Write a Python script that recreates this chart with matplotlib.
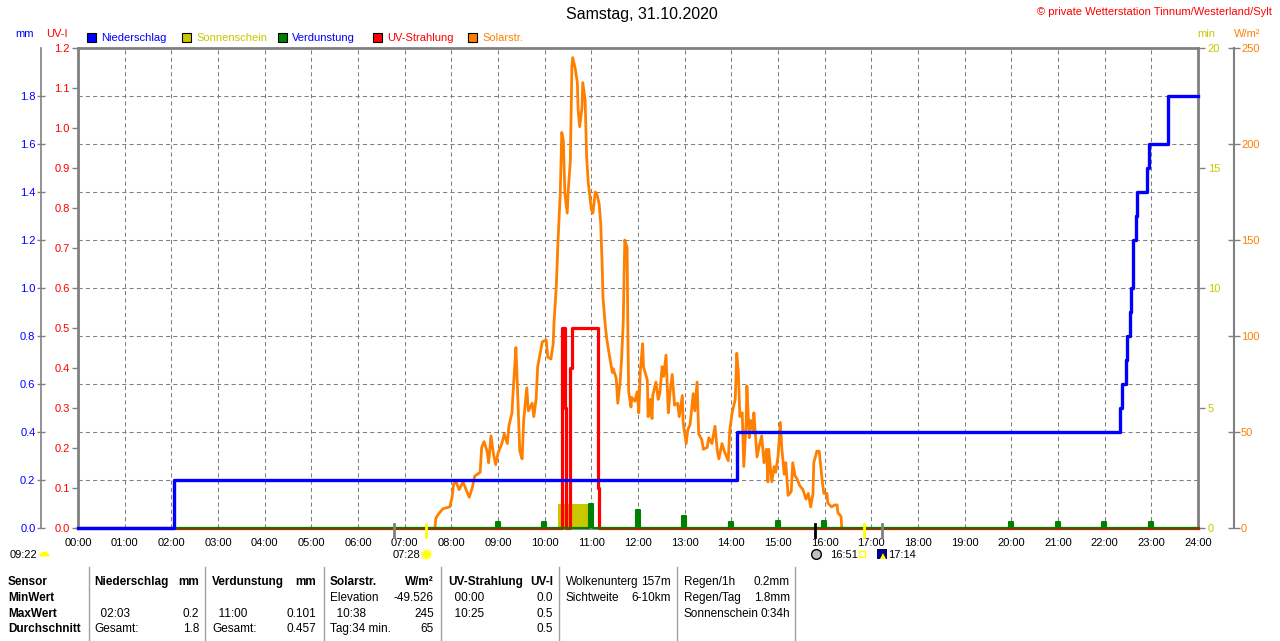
import matplotlib
matplotlib.use("Agg")
import matplotlib.pyplot as plt
from matplotlib.lines import Line2D
from matplotlib.patches import Rectangle

plt.rcParams['font.family'] = ['Liberation Sans', 'DejaVu Sans']

W, H = 1280, 641

# Zeiten in Minuten seit 00:00
# Niederschlag (kumuliert, mm)
rain_t = [0, 123, 847, 1340, 1342, 1347, 1349, 1353, 1354, 1356, 1357, 1360, 1362, 1375, 1377, 1401, 1402, 1440]
rain_v = [0.0, 0.2, 0.4, 0.5, 0.6, 0.7, 0.8, 0.9, 1.0, 1.1, 1.2, 1.3, 1.4, 1.5, 1.6, 1.7, 1.8, 1.8]

# Solarstrahlung W/m2
solar_t = [459, 460, 463, 469, 478, 481, 483, 486, 490, 495, 503, 507, 510, 517, 519, 522, 526, 528, 531, 534,
           537, 540, 545, 548, 552, 554, 558, 559, 563, 564, 566, 568, 571, 573, 577, 579, 584, 586, 589, 591,
           597, 602, 604, 608, 611, 612, 615, 617, 620, 622, 624, 626, 629, 630, 633, 635, 636, 639, 642, 643,
           645, 648, 649, 652, 654, 656, 660, 662, 665, 667, 670, 672, 674, 675, 678, 680, 684, 687, 688, 692,
           694, 697, 699, 701, 703, 706, 707, 708, 711, 712, 716, 719, 721, 723, 726, 727, 732, 733, 736, 738,
           739, 743, 746, 748, 751, 753, 756, 759, 761, 764, 767, 771, 773, 777, 778, 782, 784, 787, 791, 793,
           796, 798, 802, 804, 809, 811, 815, 819, 822, 824, 828, 831, 833, 836, 838, 841, 845, 847, 849, 851,
           854, 856, 859, 860, 863, 865, 868, 869, 873, 876, 879, 882, 885, 887, 888, 892, 895, 897, 900, 903,
           905, 908, 910, 913, 917, 919, 922, 924, 928, 932, 936, 939, 942, 945, 946, 950, 953, 957, 959, 963,
           964, 969, 973, 976, 977, 981, 982]
solar_v = [0, 5, 7, 10, 11, 16, 23, 24, 20, 24, 16, 21, 27, 29, 42, 45, 40, 34, 48, 39,
           33, 39, 44, 49, 44, 53, 60, 68, 94, 84, 62, 40, 36, 56, 73, 61, 65, 58, 67, 84,
           97, 98, 89, 88, 96, 107, 126, 148, 174, 206, 202, 174, 164, 174, 191, 240, 245, 240, 232, 218,
           209, 219, 232, 223, 193, 180, 166, 164, 175, 174, 169, 159, 136, 120, 105, 98, 88, 81, 83, 78,
           65, 76, 89, 107, 150, 146, 101, 71, 63, 68, 66, 71, 60, 82, 96, 84, 77, 58, 67, 57,
           69, 76, 67, 70, 84, 79, 90, 60, 70, 80, 64, 65, 58, 69, 55, 44, 51, 54, 70, 61,
           76, 49, 46, 41, 42, 47, 44, 53, 40, 36, 44, 40, 38, 35, 51, 60, 67, 91, 81, 58,
           60, 32, 55, 74, 47, 56, 51, 60, 37, 43, 48, 34, 41, 24, 41, 24, 32, 29, 37, 55,
           41, 28, 34, 17, 19, 34, 27, 26, 22, 20, 15, 18, 11, 18, 34, 40, 40, 24, 18, 18,
           13, 11, 12, 12, 8, 6, 0]

# UV-Index
uv_t = [0, 622, 626, 627, 633, 635, 668, 670, 1440]
uv_v = [0.0, 0.5, 0.3, 0.0, 0.4, 0.5, 0.1, 0.0, 0.0]

# Sonnenschein (min)
sun_t = [0, 617, 658, 1440]
sun_v = [0, 1.0, 0, 0]

# Verdunstung (mm je Stunde)
evap_h = [9, 10, 11, 12, 13, 14, 15, 16, 20, 21, 22, 23]
evap_v = [0.025, 0.025, 0.101, 0.075, 0.05, 0.025, 0.03, 0.03, 0.025, 0.025, 0.025, 0.025]

# Ereignisse an der Zeitachse (Daemmerung, Sonnenauf-/untergang, Mond)
events_t = [406, 448, 948, 1011, 1034]
events_c = ['#808080', '#ffff00', '#000000', '#ffff00', '#808080']

hour_ticks = [h * 60 for h in range(25)]
hour_labels = ['%02d:00' % h for h in range(25)]
mm_ticks = [0.0, 0.2, 0.4, 0.6, 0.8, 1.0, 1.2, 1.4, 1.6, 1.8]
uv_ticks = [0.0, 0.1, 0.2, 0.3, 0.4, 0.5, 0.6, 0.7, 0.8, 0.9, 1.0, 1.1, 1.2]
min_ticks = [0, 5, 10, 15, 20]
w_ticks = [0, 50, 100, 150, 200, 250]

legend_names = ['Niederschlag', 'Sonnenschein', 'Verdunstung', 'UV-Strahlung', 'Solarstr.']
legend_box = ['#0000ff', '#c8c800', '#008000', '#ff0000', '#ff8000']
legend_txt = ['#0000ff', '#c8c800', '#0000ff', '#ff0000', '#ff8000']

# Tabelle unten
sensor_col = ['Sensor', 'MinWert', 'MaxWert', 'Durchschnitt']
nied_col = [('Niederschlag', 'mm'), ('', ''), ('  02:03', '0.2'), ('Gesamt:', '1.8')]
verd_col = [('Verdunstung', 'mm'), ('', ''), ('  11:00', '0.101'), ('Gesamt:', '0.457')]
solar_col = [('Solarstr.', 'W/m²'), ('Elevation', '-49.526'), ('  10:38', '245'), ('Tag:34 min.', '65')]
uv_col = [('UV-Strahlung', 'UV-I'), ('  00:00', '0.0'), ('  10:25', '0.5'), ('', '0.5')]
wolken_col = [('Wolkenunterg', '157m'), ('Sichtweite', '6-10km'), ('', ''), ('', '')]
regen_col = [('Regen/1h', '0.2mm'), ('Regen/Tag', '1.8mm'), ('Sonnenschein', '0:34h'), ('', '')]

GRAY = '#808080'
BLUE = '#0000ff'
RED = '#ff0000'
OLIVE = '#c8c800'
ORANGE = '#ff8000'
GREEN = '#008000'
FS = 8

fig = plt.figure(figsize=(W / 100, H / 100), dpi=100)
ax = fig.add_axes([78 / W, 1 - 528 / H, 1120 / W, 480 / H])
ax_sun = ax.twinx()
ax_w = ax.twinx()
ax_uv = ax.twinx()
ax_rain = ax.twinx()

for a in (ax, ax_sun, ax_w, ax_uv, ax_rain):
    for s in a.spines.values():
        s.set_visible(False)
    a.set_xlim(0, 1440)

# mm-Achse (Basis) mit Gitter
ax.set_ylim(0, 2.0)
for k in ('top', 'bottom'):
    ax.spines[k].set_visible(True)
    ax.spines[k].set_color(GRAY)
    ax.spines[k].set_linewidth(2)
ax.spines['left'].set_visible(True)
ax.spines['left'].set_position(('outward', 37 * 0.72))
ax.spines['left'].set_color(GRAY)
ax.spines['left'].set_linewidth(1.2)
ax.set_yticks(mm_ticks)
ax.set_yticklabels(['%.1f' % v for v in mm_ticks], color=BLUE)
ax.tick_params(axis='y', direction='inout', length=6, width=1, color=GRAY, pad=1, labelsize=FS)
ax.set_xticks(hour_ticks)
ax.set_xticklabels(hour_labels)
ax.tick_params(axis='x', length=0, pad=7, labelsize=FS)
ax.grid(True, color=GRAY, linestyle=(0, (4, 3)), linewidth=0.75)

# UV-Achse links
ax_uv.yaxis.tick_left()
ax_uv.spines['left'].set_visible(True)
ax_uv.spines['left'].set_color(GRAY)
ax_uv.spines['left'].set_linewidth(2)
ax_uv.set_ylim(0, 1.2)
ax_uv.set_yticks(uv_ticks)
ax_uv.set_yticklabels(['%.1f' % v for v in uv_ticks], color=RED)
ax_uv.tick_params(axis='y', direction='out', length=4, width=1, color=GRAY, pad=2, labelsize=FS)

# Sonnenschein-Achse rechts
ax_sun.spines['right'].set_visible(True)
ax_sun.spines['right'].set_color(GRAY)
ax_sun.spines['right'].set_linewidth(2)
ax_sun.set_ylim(0, 20)
ax_sun.set_yticks(min_ticks)
ax_sun.set_yticklabels([str(v) for v in min_ticks], color=OLIVE)
ax_sun.tick_params(axis='y', direction='out', length=5, width=1, color=GRAY, pad=2, labelsize=FS)

# W/m2-Achse rechts aussen
ax_w.spines['right'].set_visible(True)
ax_w.spines['right'].set_position(('outward', 36 * 0.72))
ax_w.spines['right'].set_color(GRAY)
ax_w.spines['right'].set_linewidth(1.5)
ax_w.set_ylim(0, 250)
ax_w.set_yticks(w_ticks)
ax_w.set_yticklabels([str(v) for v in w_ticks], color=ORANGE)
ax_w.tick_params(axis='y', direction='inout', length=8, width=1, color=GRAY, pad=1, labelsize=FS)

ax_rain.set_ylim(0, 2.0)
ax_rain.yaxis.set_visible(False)

# Daten zeichnen
ax_sun.fill_between(sun_t, sun_v, step='post', color=OLIVE, linewidth=0)
ax_w.plot(solar_t, solar_v, color=ORANGE, linewidth=2)
ax_uv.plot(uv_t, uv_v, drawstyle='steps-post', color=RED, linewidth=2.3, clip_on=False)

ex, ey = [0], [0.0]
for h, v in zip(evap_h, evap_v):
    ex += [h * 60 - 3, h * 60 + 2]
    ey += [v, 0.0]
ex.append(1440)
ey.append(0.0)
ax_rain.fill_between(ex, ey, step='post', color=GREEN, linewidth=0)
ax_rain.plot(ex, ey, drawstyle='steps-post', color=GREEN, linewidth=1.5, clip_on=False)
ax_rain.plot(rain_t, rain_v, drawstyle='steps-post', color=BLUE, linewidth=2.4, clip_on=False)

for t, c in zip(events_t, events_c):
    ax_rain.plot([t, t], [-9 / 480, 4 / 480], transform=ax_rain.get_xaxis_transform(),
                 color=c, linewidth=2, clip_on=False)


def ftext(x, y, s, **kw):
    kw.setdefault('va', 'center')
    kw.setdefault('fontsize', FS)
    fig.text(x / W, 1 - y / H, s, **kw)


def fmark(x, y, **kw):
    fig.add_artist(Line2D([x / W], [1 - y / H], transform=fig.transFigure, linestyle='none', **kw))


# Kopfzeile
ftext(642, 15, 'Samstag, 31.10.2020', ha='center', fontsize=11.5)
ftext(1272, 12, '© private Wetterstation Tinnum/Westerland/Sylt', ha='right', fontsize=8, color=RED)
ftext(15, 34, 'mm', color=BLUE)
ftext(46, 34, 'UV-I', color=RED)
ftext(1197, 34, 'min', color=OLIVE)
ftext(1234, 34, 'W/m²', color=ORANGE)

# Legende
lx = 87
for name, bc, tc in zip(legend_names, legend_box, legend_txt):
    fig.add_artist(Rectangle((lx / W, 1 - 42 / H), 9 / W, 9 / H, transform=fig.transFigure,
                             facecolor=bc, edgecolor='black', linewidth=0.8))
    ftext(lx + 14, 38, name, color=tc)
    lx += 95.3

# Zeitmarken unter der Achse
ftext(10, 555, '09:22')
fmark(44, 556, marker='o', fillstyle='top', markersize=7, markerfacecolor='#ffff00',
      markeredgewidth=0)
ftext(393, 555, '07:28')
fmark(426, 554, marker=(12, 1, 0), markersize=8, markerfacecolor='#ffff00',
      markeredgecolor='#ffff00', markeredgewidth=0.5)
fmark(816, 554, marker='o', markersize=7, markerfacecolor='#c0c0c0', markeredgecolor='black',
      markeredgewidth=1)
ftext(830, 555, '16:51')
fmark(862, 554, marker='s', markersize=4, markerfacecolor='none', markeredgecolor='#ffff00',
      markeredgewidth=1)
fmark(882, 554, marker='s', markersize=7.5, markerfacecolor='#000080', markeredgewidth=0)
fmark(883, 556, marker='^', markersize=4.5, markerfacecolor='#ffff00', markeredgewidth=0)
ftext(888, 555, '17:14')

# Tabelle
row_y = [582, 598, 614, 629]
for y, s in zip(row_y, sensor_col):
    ftext(8, y, s, fontweight='bold', fontsize=8.5)

blocks = [(nied_col, 94, 199, True), (verd_col, 212, 316, True), (solar_col, 330, 434, True),
          (uv_col, 448, 553, True), (wolken_col, 566, 671, False), (regen_col, 684, 790, False)]
for col, xl, xr, bold_head in blocks:
    for i, (y, (left, right)) in enumerate(zip(row_y, col)):
        fw = 'bold' if (bold_head and i == 0) else 'normal'
        if left:
            ftext(xl, y, left, ha='left', fontweight=fw, fontsize=8.5)
        if right:
            ftext(xr, y, right, ha='right', fontweight=fw, fontsize=8.5)

for x in [89, 205, 324, 441, 559, 677, 795]:
    fig.add_artist(Line2D([x / W, x / W], [1 - 567 / H, 0], transform=fig.transFigure,
                          color='#a0a0a0', linewidth=1))

fig.savefig('out.png', dpi=100)
